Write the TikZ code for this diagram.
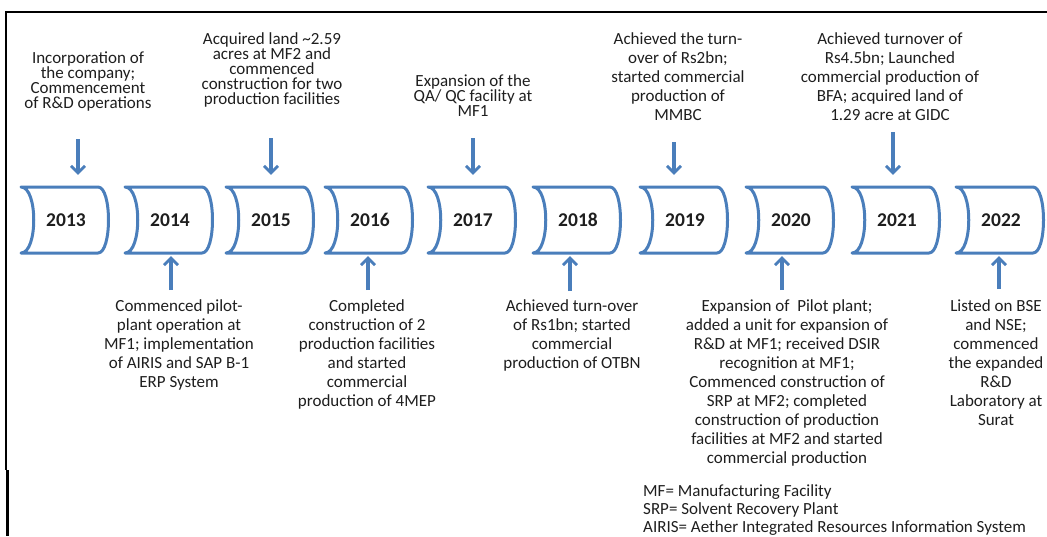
\documentclass[tikz,border=0pt]{standalone}
\usepackage{fontspec}
\setmainfont{Carlito}
\usepackage{tikz}
\usetikzlibrary{arrows.meta}

\definecolor{tlblue}{RGB}{74,126,187}
\definecolor{tltext}{RGB}{30,30,30}
\newcommand{\tightfont}{\fontsize{17}{15}\selectfont\lineskiplimit=-20pt\relax}
\newcommand{\loosefont}{\fontsize{17}{19}\selectfont\lineskiplimit=-20pt\relax}
\newcommand{\legendfont}{\fontsize{17}{18}\selectfont\lineskiplimit=-20pt\relax}

\begin{document}
\begin{tikzpicture}[x=1pt,y=-1pt,
    yearline/.style={draw=tlblue,line width=3pt,line join=round},
    yearlabel/.style={font=\fontsize{19.5}{19.5}\bfseries\selectfont,minimum height=66pt},
    arr/.style={draw=tlblue,line width=3.2pt,-{Straight Barb[length=7pt,width=14pt,line width=2.8pt]}},
    tight/.style={align=center,font=\tightfont},
    loose/.style={align=center,font=\loosefont},
    legend/.style={align=left,font=\legendfont}]
  \tikzstyle{every node}+=[inner sep=0pt,text=tltext]
  \useasboundingbox (0,0) rectangle (1047,536);
  \draw [black,line width=2.6pt] (5,12) -- (1047,12);
  \draw [black,line width=2pt] (6,11) -- (6,470);
  \draw [black,line width=3pt] (7,470) -- (7,536);
  \foreach \x/\yr in {66/2013,170/2014,271/2015,370/2016,473/2017,
                      578/2018,685/2019,791/2020,897/2021,1001/2022} {
    \draw [yearline,shift={(\x,220)}] (-45,-33) -- (32,-33)
      .. controls (46,-33) and (46,33) .. (32,33) -- (-45,33)
      .. controls (-28,33) and (-28,-33) .. (-45,-33) -- cycle;
    \node [yearlabel] (y\yr) at (\x,220) {\yr};
  }
  \node [tight,anchor=north] (t2013) at (88,52) {Incorporation of\\the company;\\Commencement\\of R\&D operations};
  \node [tight,anchor=north] (t2015) at (272,32) {Acquired land \textasciitilde2.59\\acres at MF2 and\\commenced\\construction for two\\production facilities};
  \node [tight,anchor=north] (t2017) at (473,74) {Expansion of the\\QA/ QC facility at\\MF1};
  \node [loose,anchor=north] (t2019) at (678,32) {Achieved the turn-\\over of Rs2bn;\\started commercial\\production of\\MMBC};
  \node [loose,anchor=north] (t2021) at (890,32) {Achieved turnover of\\Rs4.5bn; Launched\\commercial production of\\BFA; acquired land of\\1.29 acre at GIDC};
  \node [loose,anchor=north] (b2014) at (179,299) {Commenced pilot-\\plant operation at\\MF1; implementation\\of AIRIS and SAP B-1\\ERP System};
  \node [loose,anchor=north] (b2016) at (367,299) {Completed\\construction of 2\\production facilities\\and started\\commercial\\production of 4MEP};
  \node [loose,anchor=north] (b2018) at (572,299) {Achieved turn-over\\of Rs1bn; started\\commercial\\production of OTBN};
  \node [loose,anchor=north] (b2020) at (787,299) {Expansion of\ \ Pilot plant;\\added a unit for expansion of\\R\&D at MF1; received DSIR\\recognition at MF1;\\Commenced construction of\\SRP at MF2; completed\\construction of production\\facilities at MF2 and started\\commercial production};
  \node [loose,anchor=north] (b2022) at (996,299) {Listed on BSE\\and NSE;\\commenced\\the expanded\\R\&D\\Laboratory at\\Surat};
  \node [legend,anchor=north west] (abbr) at (643,484) {MF= Manufacturing Facility\\SRP= Solvent Recovery Plant\\AIRIS= Aether Integrated Resources Information System};
  \coordinate (d2013) at (78,139);
  \coordinate (d2015) at (271,138);
  \coordinate (d2017) at (473,138);
  \coordinate (d2019) at (674,142);
  \coordinate (d2021) at (893,132);
  \coordinate (u2014) at (171,290);
  \coordinate (u2016) at (368,290);
  \coordinate (u2018) at (570,291);
  \coordinate (u2020) at (782,290);
  \coordinate (u2022) at (999,289);
  \foreach \yr in {2013,2015,2017,2019,2021}
    \draw [arr,shorten >=12pt] (d\yr) -- (d\yr |- y\yr.north);
  \foreach \yr in {2014,2016,2018,2020,2022}
    \draw [arr,shorten >=3pt] (u\yr) -- (u\yr |- y\yr.south);
\end{tikzpicture}
\end{document}
